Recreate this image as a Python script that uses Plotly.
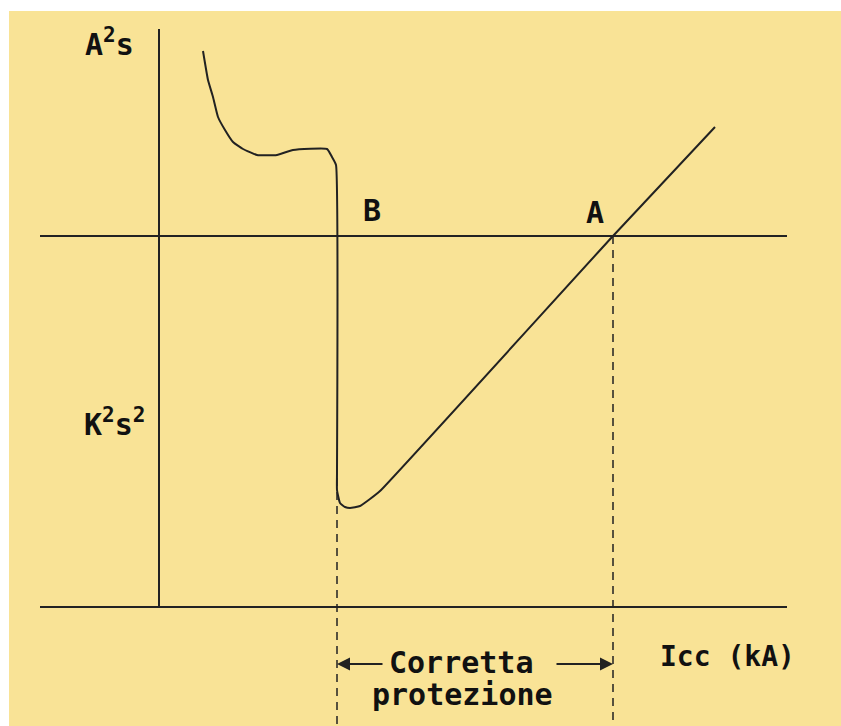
import plotly.graph_objects as go

# schematic I2t curve of a protective device (arbitrary units)
icc = [4.4, 4.9, 5.4, 5.9, 6.6, 7.4, 8.4, 9.8, 11.8, 13.4, 16.8, 17.3, 17.7,
       17.8, 17.8, 18.1, 18.6, 19.1, 20.1, 21.1, 22.1, 45.4, 55.6]
i2t = [55.6, 52.7, 51.0, 49.0, 47.7, 46.5, 45.8, 45.2, 45.2, 45.7, 45.8, 45.0, 44.2,
       13.4, 11.7, 10.4, 10.0, 9.9, 10.1, 10.8, 11.6, 37.1, 48.0]

k2s2 = 37.1          # cable withstand level
icc_b = 17.8         # point B
icc_a = 45.4         # point A
x_min, x_max = -11.9, 62.8
y_top = 57.8
y_bottom = -11.9

INK = "#222222"
BG = "#f9e396"
FONT = dict(family="DejaVu Sans Mono", size=30, color="#111111")

fig = go.Figure()

# axes drawn as lines
fig.add_trace(go.Scatter(x=[0, 0], y=[y_top, 0], mode="lines",
                         line=dict(color=INK, width=2)))
fig.add_trace(go.Scatter(x=[x_min, x_max], y=[0, 0], mode="lines",
                         line=dict(color=INK, width=2)))
fig.add_trace(go.Scatter(x=[x_min, x_max], y=[k2s2, k2s2], mode="lines",
                         line=dict(color=INK, width=2)))

# dashed verticals at B and A
fig.add_trace(go.Scatter(x=[icc_b, icc_b], y=[12.9, y_bottom], mode="lines",
                         line=dict(color=INK, width=1.5, dash="8px,6px")))
fig.add_trace(go.Scatter(x=[icc_a, icc_a], y=[k2s2, y_bottom], mode="lines",
                         line=dict(color=INK, width=1.5, dash="8px,6px")))

# the curve
fig.add_trace(go.Scatter(x=icc, y=i2t, mode="lines",
                         line=dict(color=INK, width=2, shape="spline", smoothing=0.4)))


def label(text, x, y, size=30):
    fig.add_annotation(x=x, y=y, text=text, showarrow=False,
                       font=dict(FONT, size=size))


label("<b>A<sup>2</sup>s</b>", -5.0, 56.5)
label("<b>K<sup>2</sup>s<sup>2</sup></b>", -4.5, 18.5)
label("<b>B</b>", 21.3, 39.7)
label("<b>A</b>", 43.6, 39.5)
label("<b>Corretta</b>", 30.2, -5.5)
label("<b>protezione</b>", 30.3, -8.7)
label("<b>Icc (kA)</b>", 56.8, -4.9, size=28)

# arrows for the protected range
fig.add_annotation(x=icc_b, y=-5.7, ax=22.5, ay=-5.7, axref="x", ayref="y",
                   text="", showarrow=True, arrowhead=2, arrowsize=1.3,
                   arrowwidth=2, arrowcolor=INK)
fig.add_annotation(x=icc_a, y=-5.7, ax=39.6, ay=-5.7, axref="x", ayref="y",
                   text="", showarrow=True, arrowhead=2, arrowsize=1.3,
                   arrowwidth=2, arrowcolor=INK)

fig.update_layout(
    width=841, height=726,
    paper_bgcolor="white",
    plot_bgcolor=BG,
    showlegend=False,
    margin=dict(l=9, r=0, t=11, b=0),
    xaxis=dict(range=[-15, 68.2], visible=False, fixedrange=True),
    yaxis=dict(range=[-11.9, 59.6], visible=False, fixedrange=True),
)

fig.write_html(
    "out.html",
    config={"displayModeBar": False},
    post_script=f"document.body.style.margin='0';document.body.style.background='{BG}';",
)
